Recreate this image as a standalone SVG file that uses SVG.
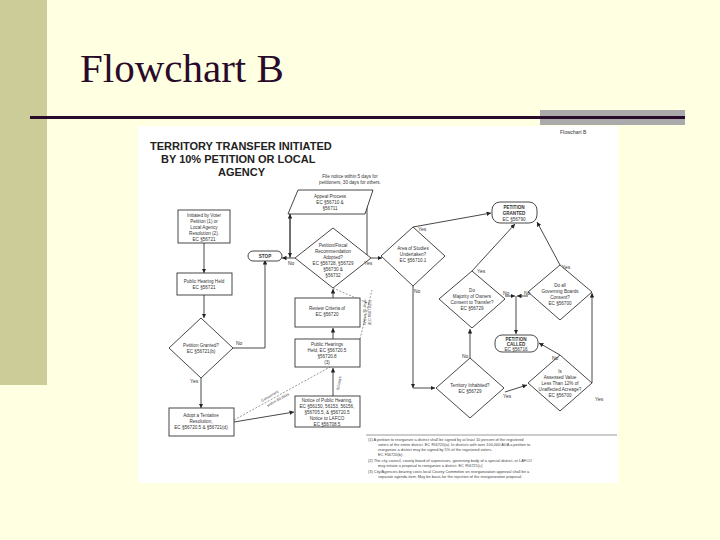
<svg xmlns="http://www.w3.org/2000/svg" width="720" height="540" viewBox="0 0 720 540">
<defs>
<marker id="ah" viewBox="0 0 6 6" refX="6" refY="3" markerWidth="5" markerHeight="5" orient="auto"><path d="M0,0 L6,3 L0,6 z" fill="#222"/></marker>
<style>
.n{fill:#fff;stroke:#333;stroke-width:0.9}
.t{font-family:"Liberation Sans",Arial,sans-serif;font-size:4.6px;fill:#333;text-anchor:middle}
.l{font-family:"Liberation Sans",Arial,sans-serif;font-size:5px;fill:#333}
.c{fill:none;stroke:#333;stroke-width:0.9;marker-end:url(#ah)}
.d{fill:none;stroke:#555;stroke-width:0.6;stroke-dasharray:2,1.5}
.fn{font-family:"Liberation Sans",Arial,sans-serif;font-size:3.9px;fill:#444}
</style>
</defs>
<rect width="720" height="540" fill="#FFFFE1"/>
<rect x="0" y="0" width="47" height="385" fill="#CCCC99"/>
<text x="80" y="82" font-family="Liberation Serif,serif" font-size="41" fill="#2A0A2A">Flowchart B</text>
<rect x="540" y="110" width="145" height="15" fill="#AAAAAA"/>
<rect x="30" y="116" width="655" height="3" fill="#2A0A2A"/>
<rect x="138" y="126" width="480" height="357" fill="#fff"/>
<text x="560" y="134" class="l" font-size="6.5">Flowchart B</text>
<g font-family="Liberation Sans,Arial,sans-serif" font-weight="bold" font-size="11" fill="#222">
<text x="150" y="150">TERRITORY TRANSFER INITIATED</text>
<text x="161" y="163">BY 10% PETITION OR LOCAL</text>
<text x="218" y="176">AGENCY</text>
</g>
<text x="350" y="178" class="t">File notice within 5 days for</text>
<text x="350" y="184" class="t">petitioners, 30 days for others.</text>

<g id="connectors">
<path class="c" d="M204,243 V273"/>
<path class="c" d="M204,295 V318"/>
<path class="c" d="M201,378 V408"/>
<path class="c" d="M233,348 H265 V260"/>
<path class="c" d="M295,258 H282"/>
<path class="c" d="M290,258 V214"/>
<path class="c" d="M290,214 V257"/>
<path class="c" d="M371,258 H382"/>
<path class="c" d="M367,258 V191"/>
<path class="c" d="M333,298 V289"/>
<path class="c" d="M333,339 V328"/>
<path class="c" d="M333,396 V368"/>
<path class="c" d="M234,422 L294,412"/>
<path class="d" d="M234,420 L330,367"/>
<path class="d" d="M360,339 L372,290"/>
<path class="d" d="M333,288 L372,305"/>
<path class="c" d="M413,227 L491,213"/>
<path class="c" d="M413,286 V388"/>
<path class="c" d="M413,388 H435"/>
<path class="c" d="M472,271 L515,224"/>
<path class="c" d="M560,265 L537,222"/>
<path class="c" d="M505,296 H515"/>
<path class="c" d="M528,296 H517"/>
<path class="c" d="M516,296 V334"/>
<path class="c" d="M470,358 V329"/>
<path class="c" d="M505,392 L527,385"/>
<path class="c" d="M560,355 L539,343"/>
<path class="c" d="M592,383 V293"/>
</g>

<g id="initiated"><rect class="n" x="178" y="210" width="52" height="33"/>
<text class="t" x="204" y="217">Initiated by Voter</text><text class="t" x="204" y="223">Petition (1) or</text><text class="t" x="204" y="229">Local Agency</text><text class="t" x="204" y="235">Resolution (2).</text><text class="t" x="204" y="241">EC §56721</text></g>
<g id="hearing1"><rect class="n" x="177" y="273" width="55" height="22"/>
<text class="t" x="204" y="283">Public Hearing Held</text><text class="t" x="204" y="289">EC §56721</text></g>
<g id="petgranted"><path class="n" d="M201,318 L233,348 L201,378 L169,348 z"/>
<text class="t" x="201" y="347">Petition Granted?</text><text class="t" x="201" y="353">EC §56721(b)</text>
<text class="l" x="236" y="345">No</text><text class="l" x="190" y="383">Yes</text></g>
<g id="adopt"><rect class="n" x="169" y="408" width="65" height="28"/>
<text class="t" x="201" y="417">Adopt a Tentative</text><text class="t" x="201" y="423">Resolution,</text><text class="t" x="201" y="429">EC §56720.5 &amp; §56721(d)</text></g>
<text class="fn" transform="translate(262,402) rotate(-30)">Concurrent</text>
<text class="fn" transform="translate(268,407) rotate(-30)">within 60 days</text>
<g id="notice"><rect class="n" x="295" y="396" width="65" height="31"/>
<text class="t" x="327" y="402">Notice of Public Hearing,</text><text class="t" x="327" y="408">EC §56150, 56153, 56156,</text><text class="t" x="327" y="414">§56705.5, &amp; §56720.5</text><text class="t" x="327" y="420">Notice to LAFCO</text><text class="t" x="327" y="426">EC §56708.5</text></g>
<text class="fn" transform="translate(339,390) rotate(-80)">60 days</text>
<g id="hearings"><rect class="n" x="295" y="339" width="65" height="28"/>
<text class="t" x="327" y="346">Public Hearings</text><text class="t" x="327" y="352">Held, EC §56720.5</text><text class="t" x="327" y="358">§56720.8</text><text class="t" x="327" y="364">(3)</text></g>
<g id="review"><rect class="n" x="295" y="298" width="65" height="29"/>
<text class="t" x="327" y="310">Review Criteria of</text><text class="t" x="327" y="316">EC §56720</text></g>
<text class="fn" transform="translate(366,325) rotate(-90)">Within 30 days</text>
<text class="fn" transform="translate(371,325) rotate(-90)">(EC §56720.5)</text>
<g id="stop"><rect class="n" x="248" y="251" width="34" height="10" rx="5"/>
<text class="t" x="265" y="258" font-weight="bold">STOP</text></g>
<g id="appeal"><path class="n" d="M298,190 H373 L365,214 H288 z"/>
<text class="t" x="330" y="198">Appeal Process</text><text class="t" x="330" y="204">EC §56710 &amp;</text><text class="t" x="330" y="210">§56711</text></g>
<g id="adopted"><path class="n" d="M333,228 L371,258 L333,288 L295,258 z"/>
<text class="t" x="333" y="247">Petition/Fiscal</text><text class="t" x="333" y="253">Recommendation</text><text class="t" x="333" y="259">Adopted?</text><text class="t" x="333" y="265">EC §56728, §56729</text><text class="t" x="333" y="271">§56730 &amp;</text><text class="t" x="333" y="277">§56732</text>
<text class="l" x="288" y="265">No</text><text class="l" x="364" y="265">Yes</text></g>
<g id="area"><path class="n" d="M413,227 L445,256 L413,286 L381,256 z"/>
<text class="t" x="413" y="250">Area of Studies</text><text class="t" x="413" y="256">Undertaken?</text><text class="t" x="413" y="262">EC §56710.1</text>
<text class="l" x="418" y="231">Yes</text><text class="l" x="414" y="293">No</text></g>
<g id="granted"><rect class="n" x="492" y="202" width="45" height="21" rx="8"/>
<text class="t" x="514" y="209" font-weight="bold">PETITION</text><text class="t" x="514" y="215" font-weight="bold">GRANTED</text><text class="t" x="514" y="221">EC §56790</text></g>
<g id="majority"><path class="n" d="M472,271 L505,299 L472,328 L439,299 z"/>
<text class="t" x="472" y="292">Do</text><text class="t" x="472" y="298">Majority of Owners</text><text class="t" x="472" y="304">Consent to Transfer?</text><text class="t" x="472" y="310">EC §56729</text>
<text class="l" x="477" y="273">Yes</text><text class="l" x="503" y="295">No</text></g>
<g id="boards"><path class="n" d="M560,265 L592,292 L560,320 L528,292 z"/>
<text class="t" x="560" y="287">Do all</text><text class="t" x="560" y="293">Governing Boards</text><text class="t" x="560" y="299">Consent?</text><text class="t" x="560" y="305">EC §56700</text>
<text class="l" x="562" y="269">Yes</text><text class="l" x="524" y="295">No</text></g>
<g id="called"><rect class="n" x="495" y="335" width="43" height="17" rx="7"/>
<text class="t" x="516" y="341" font-weight="bold">PETITION</text><text class="t" x="516" y="346" font-weight="bold">CALLED</text><text class="t" x="516" y="351">EC §56716</text></g>
<g id="inhabited"><path class="n" d="M470,358 L504,388 L470,418 L436,388 z"/>
<text class="t" x="470" y="387">Territory Inhabited?</text><text class="t" x="470" y="393">EC §56729</text>
<text class="l" x="462" y="358">No</text><text class="l" x="503" y="398">Yes</text></g>
<g id="acreage"><path class="n" d="M560,355 L592,383 L560,411 L528,383 z"/>
<text class="t" x="560" y="373">Is</text><text class="t" x="560" y="379">Assessed Value</text><text class="t" x="560" y="385">Less Than 12% of</text><text class="t" x="560" y="391">Unaffected Acreage?</text><text class="t" x="560" y="397">EC §56700</text>
<text class="l" x="552" y="360">No</text><text class="l" x="595" y="401">Yes</text></g>
<g id="footnotes">
<line x1="366" y1="435" x2="617" y2="435" stroke="#555" stroke-width="0.6"/>
<text class="fn" x="368" y="441">(1)   A petition to reorganize a district shall be signed by at least 10 percent of the registered</text>
<text class="fn" x="378" y="446">voters of the entire district.  EC §56720(a).  In districts with over 100,000 AUA a petition to</text>
<text class="fn" x="378" y="451">reorganize a district may be signed by 5% of the registered voters.</text>
<text class="fn" x="378" y="456">EC §56720(b).</text>
<text class="fn" x="368" y="462">(2)   The city council, county board of supervisors, governing body of a special district, or LAFCO</text>
<text class="fn" x="378" y="467">may initiate a proposal to reorganize a district.  EC §56721(c)</text>
<text class="fn" x="368" y="473">(3)   City/Agencies bearing costs local County Committee on reorganization approval shall be a</text>
<text class="fn" x="378" y="478">separate agenda item.  May be basis for the rejection of the reorganization proposal.</text>
</g>
</svg>
